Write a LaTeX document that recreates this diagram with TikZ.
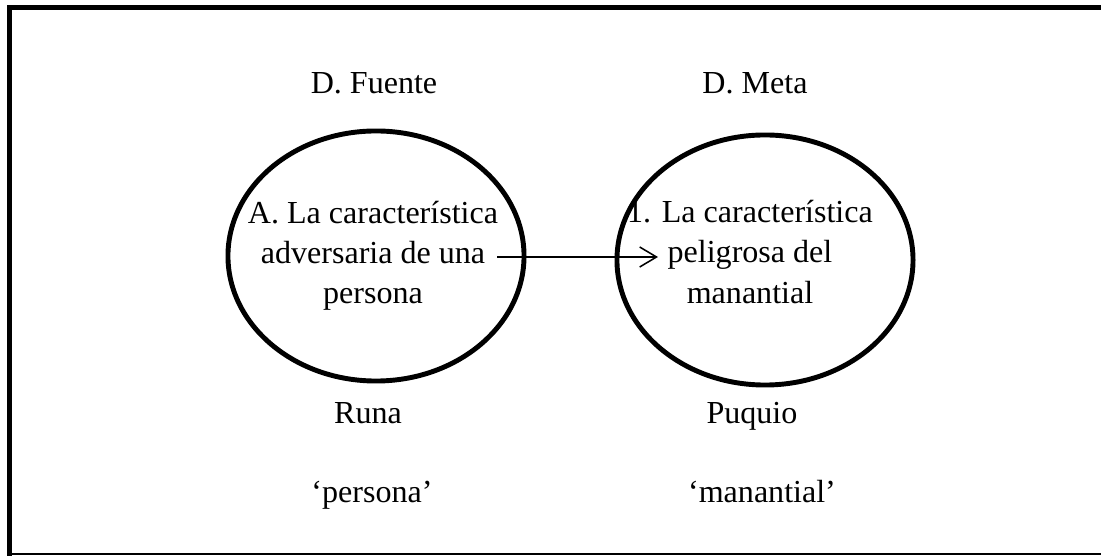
\documentclass[tikz,border=0pt]{standalone}
\usepackage{fontspec}
\setmainfont{Liberation Serif}
\usetikzlibrary{shapes.geometric,arrows.meta}

\begin{document}
\begin{tikzpicture}[x=0.025cm,y=-0.025cm,
    dominio/.style={draw,ellipse,line width=3.5pt,minimum width=7.4cm,minimum height=6.25cm,inner sep=0pt},
    etiqueta/.style={anchor=base,inner sep=0pt,font=\fontsize{22.8}{28.5}\selectfont},
    rasgo/.style={align=center,inner sep=0pt,font=\fontsize{22.8}{28.5}\selectfont}]
    \useasboundingbox (0,0) rectangle (1101,556);
    % marco
    \draw[line width=3.5pt] (9.8,560) -- (9.8,7.3) -- (1105,7.3);
    \draw[line width=1pt] (9.8,554) -- (1105,554);
    % dominios fuente y meta
    \node[dominio] (fuente) at (376,256) {};
    \node[dominio] (meta) at (765,260) {};
    \node[rasgo] (fuentetxt) at (373,256) {A. La característica\\adversaria de una\\persona};
    \node[rasgo] (metatxt) at (750,252) {1. La característica\\peligrosa del\\manantial};
    % titulos y palabras
    \node[etiqueta] (dfuente) at (374,94) {D. Fuente};
    \node[etiqueta] (dmeta) at (755,94) {D. Meta};
    \node[etiqueta] (runa) at (368,424) {Runa};
    \node[etiqueta] (puquio) at (752,424) {Puquio};
    \node[etiqueta] (persona) at (372,503) {‘persona’};
    \node[etiqueta] (manantial) at (762,503) {‘manantial’};
    % proyeccion
    \coordinate (inicio) at (497,257);
    \coordinate (fin) at (658,257);
    \draw[line width=1.1pt,-{Straight Barb[length=4.2mm,width=5mm]}] (inicio) -- (fin);
\end{tikzpicture}
\end{document}
